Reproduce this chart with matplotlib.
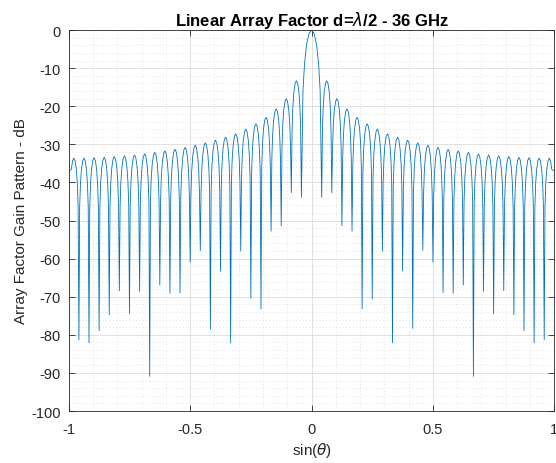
import matplotlib
matplotlib.use("Agg")
import matplotlib.pyplot as plt
import numpy as np

plt.rcParams['font.family'] = ['Liberation Sans', 'DejaVu Sans']
plt.rcParams['mathtext.fontset'] = 'dejavusans'
plt.rcParams['axes.unicode_minus'] = False

# nulls of the pattern (sin(theta), dB), left to right
null_u = [-0.9583, -0.9167, -0.875, -0.8333, -0.7917, -0.75, -0.7083, -0.6667,
          -0.625, -0.5833, -0.5417, -0.5, -0.4583, -0.4167, -0.375, -0.3333,
          -0.2917, -0.25, -0.2083, -0.1667, -0.125, -0.0833, -0.0417,
          0.0417, 0.0833, 0.125, 0.1667, 0.2083, 0.25, 0.2917, 0.3333,
          0.375, 0.4167, 0.4583, 0.5, 0.5417, 0.5833, 0.625, 0.6667,
          0.7083, 0.75, 0.7917, 0.8333, 0.875, 0.9167, 0.9583]
null_db = [-81.3, -82.1, -78.9, -74.7, -68.4, -74.5, -68.6, -90.9,
           -66.9, -69.1, -69.0, -60.9, -57.9, -78.5, -63.3, -82.1,
           -58.0, -70.4, -73.2, -52.8, -51.4, -42.7, -43.9,
           -43.9, -42.7, -51.4, -52.8, -73.2, -70.6, -58.0, -82.1,
           -63.2, -78.3, -57.8, -60.9, -68.9, -69.1, -66.9, -90.9,
           -68.6, -74.5, -68.4, -74.7, -78.9, -82.1, -81.3]

# lobe peaks (sin(theta), dB), left to right, main lobe in the middle
peak_u = [-0.9792, -0.9375, -0.8958, -0.8542, -0.8125, -0.7708, -0.7292, -0.6875,
          -0.6458, -0.6042, -0.5625, -0.5208, -0.4792, -0.4375, -0.3958, -0.3542,
          -0.3125, -0.2708, -0.2292, -0.1875, -0.1458, -0.1042, -0.0625,
          0.0,
          0.0625, 0.1042, 0.1458, 0.1875, 0.2292, 0.2708, 0.3125, 0.3542,
          0.3958, 0.4375, 0.4792, 0.5208, 0.5625, 0.6042, 0.6458, 0.6875,
          0.7292, 0.7708, 0.8125, 0.8542, 0.8958, 0.9375, 0.9792]
peak_db = [-33.6, -33.6, -33.5, -33.4, -33.2, -33.0, -32.8, -32.5,
           -32.1, -31.7, -31.3, -30.8, -30.2, -29.6, -28.9, -28.1,
           -27.2, -26.0, -24.6, -22.9, -20.7, -18.0, -13.3,
           0.0,
           -13.3, -18.0, -20.7, -22.9, -24.6, -26.0, -27.2, -28.1,
           -28.9, -29.6, -30.2, -30.8, -31.3, -31.7, -32.1, -32.5,
           -32.8, -33.0, -33.2, -33.4, -33.5, -33.6, -33.6]

# value at sin(theta) = -1 and 1
edge_u = [-1.0, 1.0]
edge_db = [-37.0, -37.0]

# lobe shape: drop below the lobe top (dB)
# at a fraction of the way from the top to the null
lobe_frac = [0.0, 0.25, 0.5, 0.7, 0.85]
side_drop = [0.0, -0.7, -3.0, -6.9, -13.0]
main_drop = [0.0, -0.9, -3.9, -9.0, -16.0]

# chain the lobes together: edge / null, lobe, null ... edge
anchor_u = [edge_u[0]] + null_u + [edge_u[1]]
anchor_db = [edge_db[0]] + null_db + [edge_db[1]]

xs, ys = [anchor_u[0]], [anchor_db[0]]
for i in range(len(peak_u)):
    a, b = anchor_u[i], anchor_u[i + 1]
    p, pv = peak_u[i], peak_db[i]
    drop = main_drop if pv == 0.0 else side_drop
    left = [(p - f * (p - a), pv + d) for f, d in zip(lobe_frac, drop)]
    right = [(p + f * (b - p), pv + d) for f, d in zip(lobe_frac, drop)]
    if i == 0:
        left = [pt for pt, f in zip(left, lobe_frac) if f <= 0.5]
    if i == len(peak_u) - 1:
        right = [pt for pt, f in zip(right, lobe_frac) if f <= 0.5]
    for u, v in left[::-1][:-1] + right:
        xs.append(u)
        ys.append(v)
    xs.append(b)
    ys.append(anchor_db[i + 1])

fig = plt.figure(figsize=(5.56, 4.64), dpi=100)
ax = fig.add_axes([0.1237, 0.112, 0.8733, 0.821])
ax.plot(xs, ys, color='#0072BD', lw=0.6)

ax.set_xlim(-1, 1)
ax.set_ylim(-100, 0)
ax.set_xticks([-1, -0.5, 0, 0.5, 1])
ax.set_xticklabels(['-1', '-0.5', '0', '0.5', '1'])
ax.set_yticks(np.arange(-100, 1, 10))
ax.set_xticks(np.arange(-1, 1.01, 0.1), minor=True)
ax.set_yticks(np.arange(-100, 1, 2), minor=True)
ax.grid(True, which='major', color='#dcdcdc', lw=0.6)
ax.grid(True, which='minor', color='#d8d8d8', lw=0.6, ls=(0, (1, 3)))
ax.set_axisbelow(True)
ax.tick_params(which='major', direction='in', top=True, right=True, length=4,
               width=0.6, color='#262626', labelsize=10.5, labelcolor='#262626')
ax.tick_params(axis='x', which='major', pad=8)
ax.tick_params(axis='y', which='major', pad=6)
ax.tick_params(which='minor', length=0)
for s in ax.spines.values():
    s.set_color('#262626')
    s.set_linewidth(0.6)

ax.set_title(r'Linear Array Factor d=$\lambda$/2 - 36 GHz', fontsize=12,
             fontweight='bold', pad=4)
ax.set_xlabel(r'sin($\theta$)', fontsize=11, color='#262626', labelpad=3)
ax.set_ylabel('Array Factor Gain Pattern - dB', fontsize=11, color='#262626',
              labelpad=2)

fig.savefig('out.png', dpi=100)
